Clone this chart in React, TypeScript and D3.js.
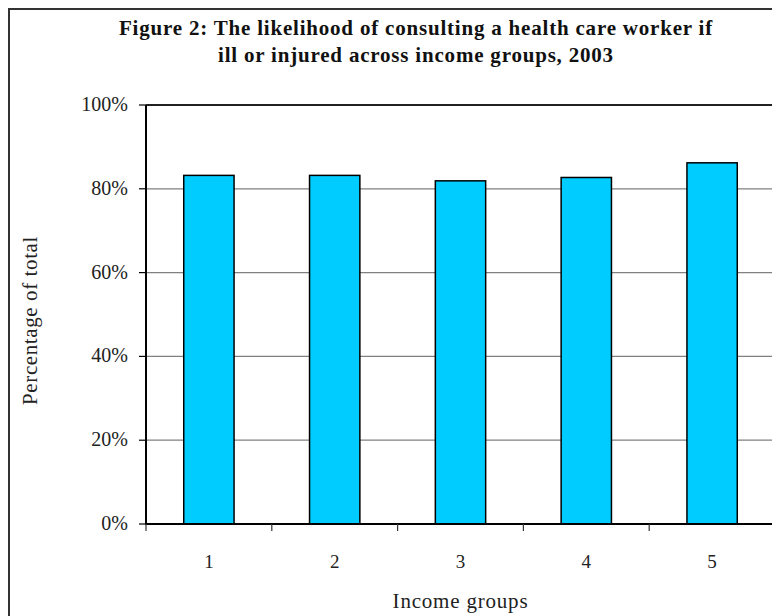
import React from "react";
import * as d3 from "d3";

// Income quintiles and the share (%) who would consult a health care worker
const categories = ["1", "2", "3", "4", "5"];
const values = [83.2, 83.2, 81.9, 82.7, 86.2];
const yTicks = [0, 20, 40, 60, 80, 100];
const titleLines = [
  "Figure 2: The likelihood of consulting a health care worker if",
  "ill or injured across income groups, 2003",
];

const W = 772;
const H = 608;
const plot = { left: 138, top: 97, right: 767, bottom: 516 };
const FONT = "'Liberation Serif', 'DejaVu Serif', serif";

export default function App() {
  const x = d3
    .scaleBand<string>()
    .domain(categories)
    .range([plot.left, plot.right])
    .paddingInner(0.6)
    .paddingOuter(0.3);
  const band = d3.scaleBand<string>().domain(categories).range([plot.left, plot.right]);
  const y = d3.scaleLinear().domain([0, 100]).range([plot.bottom, plot.top]);

  const boundaries = d3.range(categories.length + 1).map(
    (i) => plot.left + i * band.step()
  );

  return (
    <svg width={W} height={H} style={{ display: "block" }} fontFamily={FONT}>
      <rect x={0} y={0} width={W} height={H} fill="#fff" />
      {/* outer frame */}
      <rect x={1} y={1} width={W + 20} height={H + 20} fill="none" stroke="#333" strokeWidth={2} />

      {titleLines.map((t, i) => (
        <text
          key={i}
          x={408}
          y={27 + i * 27}
          textAnchor="middle"
          fontWeight="bold"
          fontSize={21}
          letterSpacing={0.8}
          fill="#111"
        >
          {t}
        </text>
      ))}

      {/* gridlines */}
      {yTicks.map((t) => (
        <line
          key={t}
          x1={plot.left}
          x2={plot.right}
          y1={y(t)}
          y2={y(t)}
          stroke="#808080"
          strokeWidth={1.2}
        />
      ))}

      {/* bars */}
      {values.map((v, i) => (
        <rect
          key={i}
          x={x(categories[i])}
          y={y(v)}
          width={x.bandwidth()}
          height={y(0) - y(v)}
          fill="#00CCFF"
          stroke="#000"
          strokeWidth={1.5}
        />
      ))}

      {/* plot frame */}
      <line x1={plot.left} x2={plot.right} y1={plot.top} y2={plot.top} stroke="#222" strokeWidth={1.8} />
      <line x1={plot.right} x2={plot.right} y1={plot.top} y2={plot.bottom} stroke="#000" strokeWidth={2} />
      <line x1={plot.left} x2={plot.left} y1={plot.top} y2={plot.bottom + 1} stroke="#000" strokeWidth={2} />
      <line x1={plot.left - 1} x2={plot.right} y1={plot.bottom} y2={plot.bottom} stroke="#000" strokeWidth={2} />

      {/* y ticks and labels */}
      {yTicks.map((t) => (
        <g key={t}>
          <line x1={plot.left - 7} x2={plot.left} y1={y(t)} y2={y(t)} stroke="#000" strokeWidth={1.2} />
          <text x={plot.left - 18} y={y(t) + 6} textAnchor="end" fontSize={20} fill="#222">
            {t}%
          </text>
        </g>
      ))}

      {/* x ticks and labels */}
      {boundaries.map((bx, i) => (
        <line key={i} x1={bx} x2={bx} y1={plot.bottom} y2={plot.bottom + 7} stroke="#333" strokeWidth={1.2} />
      ))}
      {categories.map((c) => (
        <text
          key={c}
          x={band(c)! + band.bandwidth() / 2}
          y={560}
          textAnchor="middle"
          fontSize={19}
          fill="#222"
        >
          {c}
        </text>
      ))}

      <text
        x={(plot.left + plot.right) / 2}
        y={600}
        textAnchor="middle"
        fontSize={21}
        letterSpacing={0.8}
        fill="#222"
      >
        Income groups
      </text>
      <text
        transform={`translate(29, ${(plot.top + plot.bottom) / 2 + 6}) rotate(-90)`}
        textAnchor="middle"
        fontSize={21}
        letterSpacing={0.6}
        fill="#222"
      >
        Percentage of total
      </text>
    </svg>
  );
}
